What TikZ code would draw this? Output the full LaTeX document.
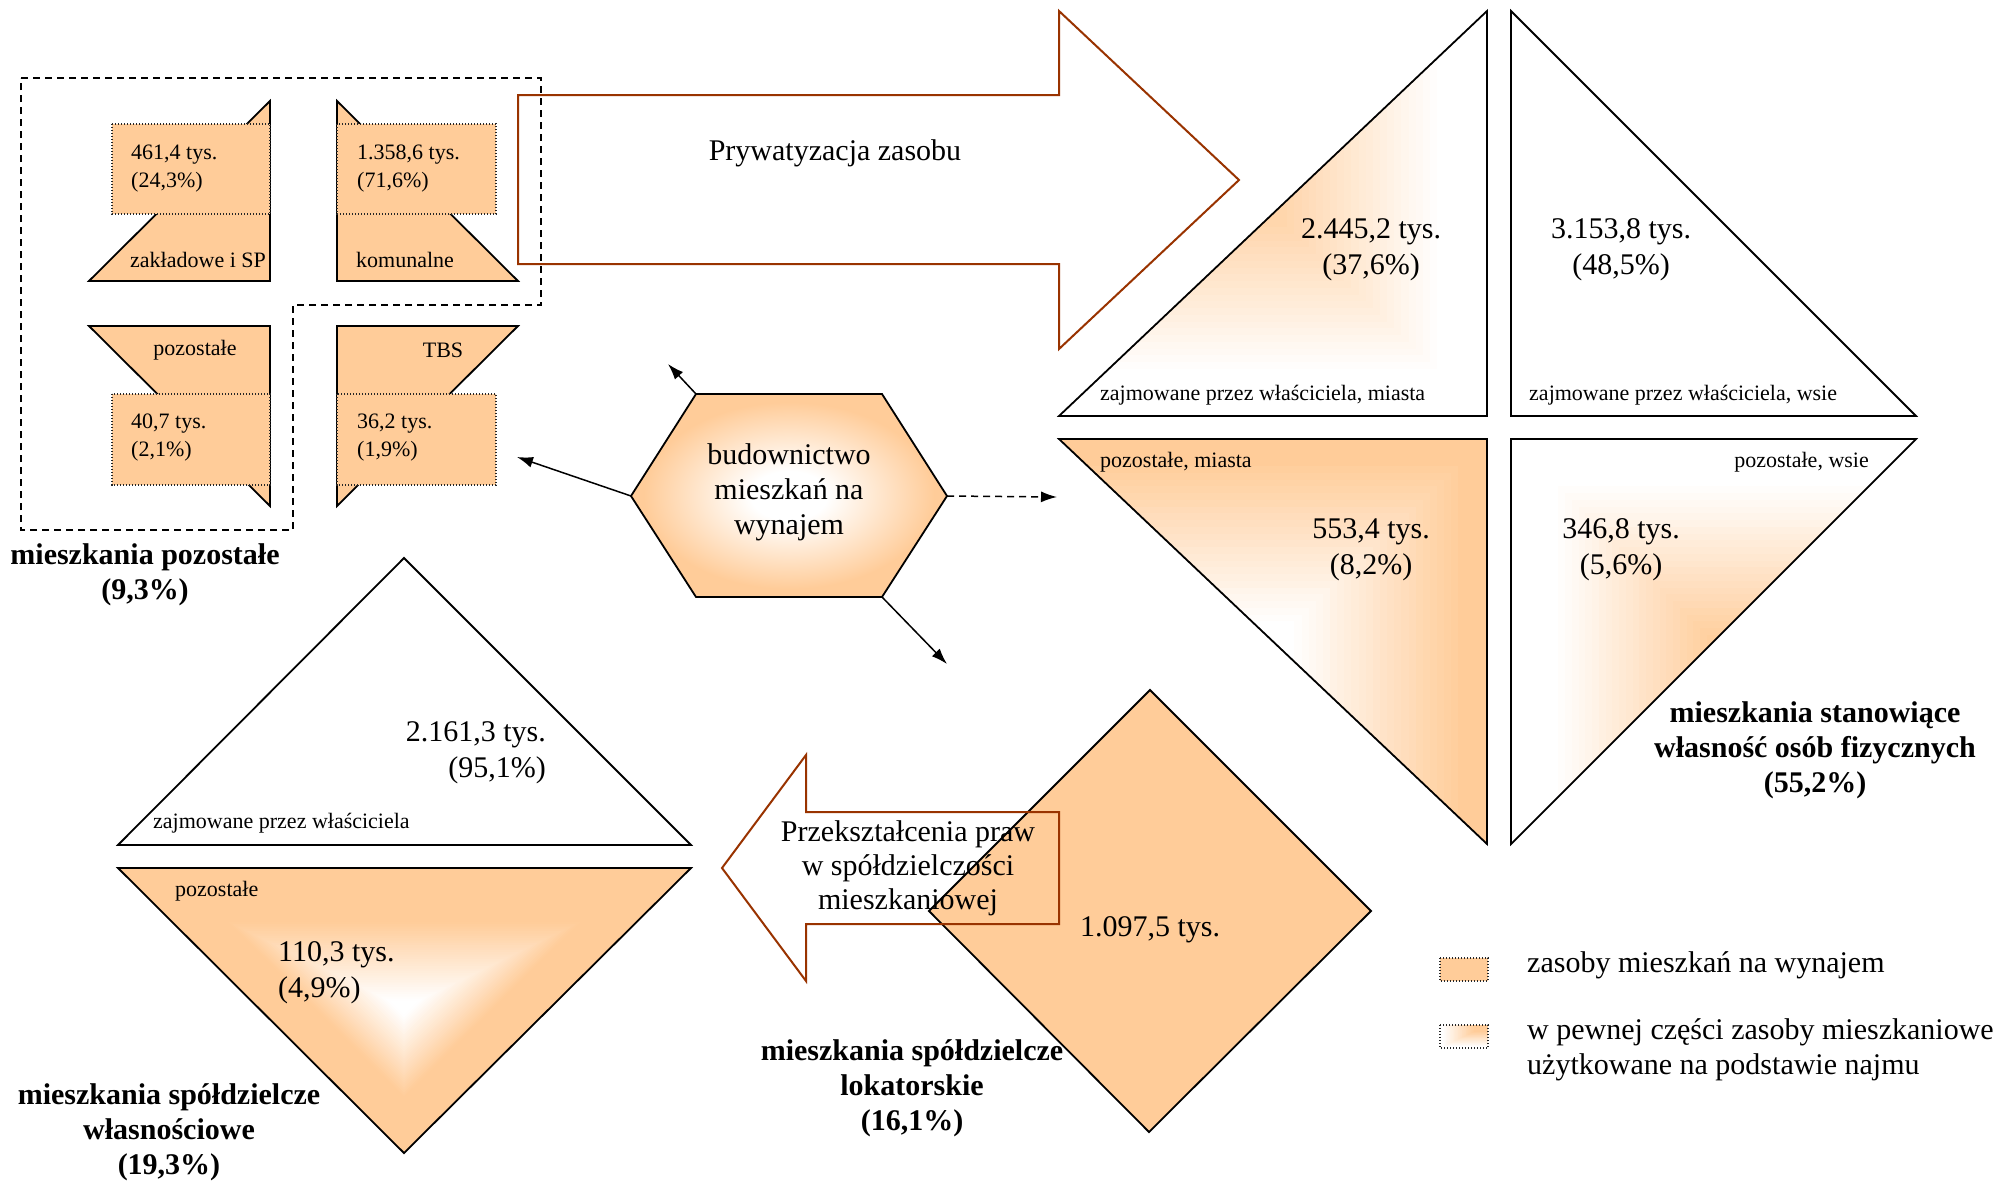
\documentclass[tikz,border=0pt]{standalone}
\usepackage{fontspec}
\setmainfont{Liberation Serif}
\usetikzlibrary{arrows.meta,calc}
\definecolor{myorange}{RGB}{255,204,153}
\definecolor{rust}{RGB}{153,51,0}
\pgfdeclareradialshading{hexsh}{\pgfpoint{0bp}{0bp}}{color(0bp)=(white); color(6bp)=(white); color(23bp)=(myorange); color(50bp)=(myorange)}
% corner (Chebyshev) gradient: #1,#2 corner; #3,#4 extent; #5 tA; #6 pA; #7 tB; #8 pB
\newcommand\cornergrad[8]{%
  \foreach \cgI in {0,...,60}{%
    \pgfmathsetmacro\cgT{1-\cgI/60}%
    \pgfmathtruncatemacro\cgP{#6+(#8-#6)*min(1,max(0,(\cgT-#5)/(#7-#5)))}%
    \fill[myorange!\cgP!white] (#1,#2) rectangle ++({#3*\cgT},{#4*\cgT});
  }}
\begin{document}
\begin{tikzpicture}[x=1pt,y=-1pt,
  lbl/.style={inner sep=0pt, font=\fontsize{22}{28}\selectfont},
  big/.style={inner sep=0pt, align=center, font=\fontsize{30}{36}\selectfont},
  bigb/.style={inner sep=0pt, align=center, font=\bfseries\fontsize{30}{35}\selectfont},
  shp/.style={draw=black, line width=1.8pt},
  dotbox/.style={draw=black!85, line width=1.3pt, dash pattern=on 1.3pt off 1.7pt, fill=myorange},
  conn/.style={line width=1.5pt, -{Latex[length=16pt,width=11pt]}},
  bigarrow/.style={draw=rust, line width=2pt},
  dsh/.style={line width=1.6pt, dash pattern=on 7pt off 5pt}]
\useasboundingbox (0,0) rectangle (2003,1183);
\fill[white] (0,0) rectangle (2003,1183);

% ---------- left group: mieszkania pozostale ----------
\filldraw[shp, fill=myorange] (270,101) -- (270,281) -- (89,281) -- cycle;
\draw[dotbox] (112,124) rectangle (270,214);
\node[lbl, align=left, anchor=west] (tA) at (131,169) {461,4 tys.\\(24,3\%)};
\node[lbl, anchor=west] (lA) at (130,260) {zakładowe i SP};

\filldraw[shp, fill=myorange] (337,101) -- (337,281) -- (518,281) -- cycle;
\draw[dotbox] (337,124) rectangle (496,214);
\node[lbl, align=left, anchor=west] (tB) at (357,169) {1.358,6 tys.\\(71,6\%)};
\node[lbl, anchor=west] (lB) at (356,260) {komunalne};

\filldraw[shp, fill=myorange] (89,326) -- (270,326) -- (270,506) -- cycle;
\draw[dotbox] (112,394) rectangle (270,485);
\node[lbl, align=left, anchor=west] (tC) at (131,438) {40,7 tys.\\(2,1\%)};
\node[lbl] (lC) at (195,350) {pozostałe};

\filldraw[shp, fill=myorange] (337,326) -- (518,326) -- (337,506) -- cycle;
\draw[dotbox] (337,394) rectangle (496,485);
\node[lbl, align=left, anchor=west] (tD) at (357,438) {36,2 tys.\\(1,9\%)};
\node[lbl] (lD) at (443,350) {TBS};

\draw[dsh] (21,78) -- (541,78) -- (541,305) -- (293,305) -- (293,530) -- (21,530) -- cycle;
\node[bigb] (tPoz) at (145,575) {mieszkania pozostałe\\(9,3\%)};

% ---------- privatisation arrow ----------
\draw[bigarrow] (518,95) -- (1059,95) -- (1059,11) -- (1239,180) -- (1059,349) -- (1059,264) -- (518,264) -- cycle;
\node[big] (tPryw) at (835,153) {Prywatyzacja zasobu};

% ---------- right triangles ----------
\begin{scope}
  \clip (1059,416) -- (1487,416) -- (1487,11) -- cycle;
  \cornergrad{1059}{11}{428}{405}{0.45}{100}{0.9}{0}
\end{scope}
\draw[shp] (1059,416) -- (1487,416) -- (1487,11) -- cycle;
\node[big] (nTL) at (1371,250) {2.445,2 tys.\\(37,6\%)};
\node[lbl, anchor=west] (lTL) at (1100,395) {zajmowane przez właściciela, miasta};

\draw[shp, fill=white] (1511,11) -- (1511,416) -- (1916,416) -- cycle;
\node[big] (nTR) at (1621,250) {3.153,8 tys.\\(48,5\%)};
\node[lbl, anchor=west] (lTR) at (1529,395) {zajmowane przez właściciela, wsie};

\begin{scope}
  \clip (1059,439) -- (1487,439) -- (1487,844) -- cycle;
  \cornergrad{1059}{844}{428}{-405}{0.55}{0}{0.95}{100}
\end{scope}
\draw[shp] (1059,439) -- (1487,439) -- (1487,844) -- cycle;
\node[lbl, anchor=west] (lBL) at (1100,462) {pozostałe, miasta};
\node[big] (nBL) at (1371,550) {553,4 tys.\\(8,2\%)};

\begin{scope}
  \clip (1511,439) -- (1916,439) -- (1511,844) -- cycle;
  \cornergrad{1916}{844}{-405}{-405}{0.5}{100}{0.9}{0}
\end{scope}
\draw[shp] (1511,439) -- (1916,439) -- (1511,844) -- cycle;
\node[lbl, anchor=east] (lBR) at (1869,462) {pozostałe, wsie};
\node[big] (nBR) at (1621,550) {346,8 tys.\\(5,6\%)};

\node[bigb] (tWl) at (1815,750) {mieszkania stanowiące\\własność osób fizycznych\\(55,2\%)};

% ---------- hexagon ----------
\coordinate (hTL) at (696,394);
\coordinate (hTR) at (882,394);
\coordinate (hR) at (947,496);
\coordinate (hBR) at (882,597);
\coordinate (hBL) at (696,597);
\coordinate (hL) at (631,496);
\path[shading=hexsh] (hTL) -- (hTR) -- (hR) -- (hBR) -- (hBL) -- (hL) -- cycle;
\draw[shp] (hTL) -- (hTR) -- (hR) -- (hBR) -- (hBL) -- (hL) -- cycle;
\node[big, font=\fontsize{30}{35}\selectfont] (hex) at (789,492) {budownictwo\\mieszkań na\\wynajem};

\coordinate (aTL) at (668,364);
\coordinate (aL) at (517,457);
\coordinate (aBR) at (947,664);
\coordinate (aR) at (1057,497);
\draw[conn] (hTL) -- (aTL);
\draw[conn] (hL) -- (aL);
\draw[conn] (hBR) -- (aBR);
\draw[conn, dash pattern=on 7pt off 5pt] (hR) -- (aR);

% ---------- spoldzielcze wlasnosciowe ----------
\draw[shp, fill=white] (404,558) -- (691,845) -- (118,845) -- cycle;
\node[big, align=right, anchor=east] (nW1) at (546,753) {2.161,3 tys.\\(95,1\%)};
\node[lbl, anchor=west] (lW1) at (153,823) {zajmowane przez właściciela};

\coordinate (wc) at (404,1008);
\coordinate (w1) at (118,868);
\coordinate (w2) at (691,868);
\coordinate (w3) at (404,1153);
\foreach \ci in {0,...,60}{%
  \pgfmathsetmacro\cT{1-\ci/60}%
  \pgfmathtruncatemacro\cP{100*min(1,max(0,(\cT-0.06)/(0.62-0.06)))}%
  \fill[myorange!\cP!white] ($(wc)!\cT!(w1)$) -- ($(wc)!\cT!(w2)$) -- ($(wc)!\cT!(w3)$) -- cycle;
}
\draw[shp] (w1) -- (w2) -- (w3) -- cycle;
\node[lbl, anchor=west] (lW2) at (175,891) {pozostałe};
\node[big, align=left, anchor=west] (nW2) at (278,973) {110,3 tys.\\(4,9\%)};
\node[bigb] (tSW) at (169,1132) {mieszkania spółdzielcze\\własnościowe\\(19,3\%)};

% ---------- spoldzielcze lokatorskie ----------
\filldraw[shp, fill=myorange] (1150,690) -- (1371,911) -- (1149,1132) -- (929,911) -- cycle;
\node[big] (nLok) at (1150,930) {1.097,5 tys.};
\draw[bigarrow] (722,868) -- (806,755) -- (806,812) -- (1059,812) -- (1059,924) -- (806,924) -- (806,981) -- cycle;
\node[big, font=\fontsize{30}{34}\selectfont] (tPrz) at (908,868) {Przekształcenia praw\\w spółdzielczości\\mieszkaniowej};
\node[bigb] (tLok) at (912,1088) {mieszkania spółdzielcze\\lokatorskie\\(16,1\%)};

% ---------- legend ----------
\draw[dotbox] (1440,958) rectangle (1488,981);
\node[big, anchor=west] (lg1) at (1527,965) {zasoby mieszkań na wynajem};
\begin{scope}
  \clip (1440,1025) rectangle (1488,1048);
  \cornergrad{1488}{1025}{-48}{23}{0.3}{100}{0.95}{0}
\end{scope}
\draw[dotbox, fill=none] (1440,1025) rectangle (1488,1048);
\node[big, align=left, anchor=west, font=\fontsize{30}{35}\selectfont] (lg2) at (1527,1050) {w pewnej części zasoby mieszkaniowe\\użytkowane na podstawie najmu};
\end{tikzpicture}
\end{document}
